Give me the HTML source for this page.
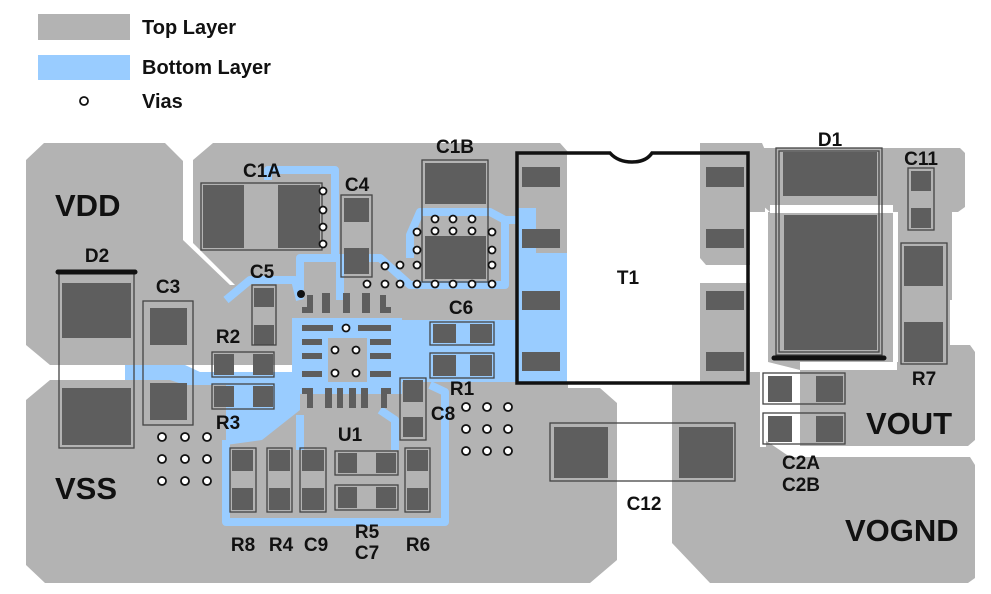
<!DOCTYPE html>
<html><head><meta charset="utf-8"><style>
html,body{margin:0;padding:0;background:#fff;width:991px;height:594px;overflow:hidden}
text{font-family:"Liberation Sans",Arial,sans-serif;font-weight:bold;fill:#111}
</style></head><body>
<svg width="991" height="594" viewBox="0 0 991 594" xmlns="http://www.w3.org/2000/svg">
<!-- legend -->
<rect x="38" y="14" width="92" height="26" fill="#b3b3b3"/>
<rect x="38" y="55" width="92" height="25" fill="#99ccff"/>
<circle cx="84" cy="101" r="4" fill="#fff" stroke="#111" stroke-width="1.8"/>
<text x="142" y="34" font-size="20">Top Layer</text>
<text x="142" y="74" font-size="20">Bottom Layer</text>
<text x="142" y="108" font-size="20">Vias</text>

<g fill="#b3b3b3">
<polygon points="44,143 165,143 183,161 183,240 230,285 300,285 300,365 50,365 26,345 26,160"/>
<polygon points="50,380 300,380 300,388 600,388 617,403 617,560 590,583 45,583 26,565 26,400"/>
<polygon points="213,143 560,143 568,152 568,395 300,395 300,285 235,285 193,243 193,160"/>
<polygon points="700,143 762,143 765,150 765,262 758,265 706,265 700,258"/>
<polygon points="762,148 905,148 960,148 965,153 965,207 958,212 770,212 762,205"/>
<polygon points="898,150 952,150 952,300 898,300"/>
<polygon points="768,212 893,212 893,362 800,362 800,370 768,362"/>
<polygon points="897,240 950,240 950,345 970,345 975,352 975,440 968,446 800,446 800,370 897,370"/>
<polygon points="680,283 762,283 765,290 765,440 790,457 970,457 975,465 975,578 968,583 710,583 672,543 672,290"/>
</g>
<g fill="#fff">
<rect x="567" y="153" width="133" height="230"/>
<rect x="700" y="265" width="45" height="18"/>
<rect x="760" y="365" width="6" height="82"/>
<rect x="793" y="372" width="6" height="76"/>
<rect x="617" y="388" width="55" height="200"/>
<rect x="750" y="212" width="18" height="160"/>
<rect x="770" y="205" width="123" height="8"/>
<rect x="893" y="212" width="5" height="150"/>
</g>

<g fill="#99ccff">
<rect x="518" y="253" width="49" height="130"/>
<rect x="518" y="208" width="18" height="50"/>
<rect x="292" y="318" width="110" height="76"/>
<polygon points="125,365 185,365 200,372 300,372 300,385 185,385 170,380 125,380"/>
<polygon points="226,382 300,382 300,410 262,440 226,445"/>
<rect x="395" y="320" width="123" height="62"/>
</g>
<g fill="none" stroke="#99ccff" stroke-width="8" stroke-linejoin="round">
<polyline points="226,440 226,522 445,522 445,392 430,385"/>
<polyline points="268,180 268,170 335,170 335,258 300,258 300,290"/>
<polyline points="335,258 380,258 410,285 505,285 505,220 490,212 420,212 410,235 410,258"/>
<polyline points="340,300 340,260"/>
<polyline points="226,300 250,280 295,280 300,300"/>
<polyline points="505,220 518,220"/>
<polyline points="395,450 395,420 380,410"/>
<polyline points="300,450 300,415"/>
</g>

<g fill="#5e5e5e">
<rect x="203" y="185" width="41" height="63"/><rect x="278" y="185" width="42" height="63"/>
<rect x="344" y="198" width="25" height="24"/><rect x="344" y="248" width="25" height="26"/>
<rect x="425" y="163" width="61" height="41"/><rect x="425" y="236" width="61" height="43"/>
<rect x="254" y="288" width="20" height="19"/><rect x="254" y="325" width="20" height="20"/>
<rect x="62" y="283" width="69" height="55"/><rect x="62" y="388" width="69" height="57"/>
<rect x="150" y="308" width="37" height="37"/><rect x="150" y="383" width="37" height="37"/>
<rect x="214" y="354" width="20" height="21"/><rect x="253" y="354" width="20" height="21"/>
<rect x="214" y="386" width="20" height="21"/><rect x="253" y="386" width="20" height="21"/>
<rect x="433" y="324" width="23" height="19"/><rect x="470" y="324" width="22" height="19"/>
<rect x="433" y="355" width="23" height="21"/><rect x="470" y="355" width="22" height="21"/>
<rect x="403" y="380" width="20" height="22"/><rect x="403" y="417" width="20" height="20"/>
<rect x="232" y="450" width="21" height="21"/><rect x="232" y="488" width="21" height="22"/>
<rect x="269" y="450" width="21" height="21"/><rect x="269" y="488" width="21" height="22"/>
<rect x="302" y="450" width="22" height="21"/><rect x="302" y="488" width="22" height="22"/>
<rect x="338" y="453" width="19" height="20"/><rect x="376" y="453" width="20" height="20"/>
<rect x="338" y="487" width="19" height="21"/><rect x="376" y="487" width="20" height="21"/>
<rect x="407" y="450" width="21" height="21"/><rect x="407" y="488" width="21" height="22"/>
<rect x="522" y="167" width="38" height="20"/><rect x="522" y="229" width="38" height="19"/>
<rect x="522" y="291" width="38" height="19"/><rect x="522" y="352" width="38" height="19"/>
<rect x="706" y="167" width="38" height="20"/><rect x="706" y="229" width="38" height="19"/>
<rect x="706" y="291" width="38" height="19"/><rect x="706" y="352" width="38" height="19"/>
<rect x="554" y="427" width="54" height="51"/><rect x="679" y="427" width="54" height="51"/>
<rect x="783" y="152" width="94" height="44"/><rect x="784" y="215" width="93" height="135"/>
<rect x="911" y="171" width="20" height="20"/><rect x="911" y="208" width="20" height="20"/>
<rect x="904" y="246" width="39" height="40"/><rect x="904" y="322" width="39" height="40"/>
<rect x="768" y="376" width="24" height="26"/><rect x="816" y="376" width="27" height="26"/>
<rect x="768" y="416" width="24" height="26"/><rect x="816" y="416" width="27" height="26"/>
<rect x="302" y="325" width="31" height="6"/><rect x="302" y="339" width="20" height="6"/>
<rect x="302" y="353" width="20" height="6"/><rect x="302" y="371" width="20" height="6"/>
<rect x="358" y="325" width="33" height="6"/><rect x="370" y="339" width="21" height="6"/>
<rect x="370" y="353" width="21" height="6"/><rect x="370" y="371" width="21" height="6"/>
<rect x="302" y="307" width="11" height="6"/><rect x="307" y="295" width="6" height="18"/>
<rect x="322" y="293" width="8" height="20"/><rect x="343" y="293" width="7" height="20"/>
<rect x="362" y="293" width="8" height="20"/><rect x="380" y="307" width="11" height="6"/><rect x="380" y="295" width="6" height="18"/>
<rect x="302" y="388" width="11" height="6"/><rect x="307" y="388" width="6" height="20"/>
<rect x="325" y="388" width="7" height="20"/><rect x="337" y="388" width="6" height="20"/>
<rect x="349" y="388" width="7" height="20"/><rect x="361" y="388" width="7" height="20"/>
<rect x="381" y="388" width="10" height="6"/><rect x="381" y="388" width="6" height="20"/>
</g>
<rect x="328" y="338" width="39" height="44" fill="#b3b3b3"/>
<circle cx="301" cy="294" r="4" fill="#111"/>

<g fill="none" stroke="#444" stroke-width="1.3">
<rect x="201" y="183" width="121" height="67"/>
<rect x="341" y="195" width="31" height="82"/>
<rect x="422" y="160" width="66" height="122"/>
<rect x="252" y="285" width="24" height="60"/>
<rect x="59" y="272" width="75" height="176"/>
<rect x="143" y="301" width="50" height="124"/>
<rect x="212" y="352" width="62" height="25"/>
<rect x="212" y="384" width="62" height="25"/>
<rect x="430" y="322" width="64" height="23"/>
<rect x="430" y="353" width="64" height="25"/>
<rect x="400" y="378" width="26" height="62"/>
<rect x="230" y="448" width="26" height="64"/>
<rect x="267" y="448" width="25" height="64"/>
<rect x="300" y="448" width="26" height="64"/>
<rect x="335" y="451" width="63" height="24"/>
<rect x="335" y="485" width="63" height="25"/>
<rect x="405" y="448" width="25" height="64"/>
<rect x="550" y="423" width="185" height="58"/>
<rect x="776" y="148" width="106" height="207"/>
<rect x="779" y="151" width="100" height="201"/>
<rect x="908" y="168" width="26" height="62"/>
<rect x="901" y="243" width="46" height="121"/>
<rect x="763" y="373" width="82" height="31"/>
<rect x="763" y="413" width="82" height="31"/>
</g>
<line x1="58" y1="272" x2="135" y2="272" stroke="#111" stroke-width="5" stroke-linecap="round"/>
<line x1="774" y1="358" x2="884" y2="358" stroke="#111" stroke-width="5" stroke-linecap="round"/>
<path d="M517,153 H610 Q618,162 632,162 Q646,162 652,153 H748 V383 H517 Z" fill="none" stroke="#111" stroke-width="3.5"/>

<g fill="#fff" stroke="#111" stroke-width="1.8">
<circle cx="323" cy="191" r="3.5"/><circle cx="323" cy="210" r="3.5"/><circle cx="323" cy="227" r="3.5"/><circle cx="323" cy="244" r="3.5"/>
<circle cx="435" cy="219" r="3.5"/><circle cx="453" cy="219" r="3.5"/><circle cx="472" cy="219" r="3.5"/>
<circle cx="417" cy="232" r="3.5"/><circle cx="435" cy="231" r="3.5"/><circle cx="453" cy="231" r="3.5"/><circle cx="472" cy="231" r="3.5"/><circle cx="492" cy="232" r="3.5"/>
<circle cx="417" cy="250" r="3.5"/><circle cx="492" cy="250" r="3.5"/>
<circle cx="385" cy="266" r="3.5"/><circle cx="400" cy="265" r="3.5"/><circle cx="417" cy="265" r="3.5"/><circle cx="492" cy="265" r="3.5"/>
<circle cx="367" cy="284" r="3.5"/><circle cx="385" cy="284" r="3.5"/><circle cx="400" cy="284" r="3.5"/><circle cx="417" cy="284" r="3.5"/><circle cx="435" cy="284" r="3.5"/><circle cx="453" cy="284" r="3.5"/><circle cx="472" cy="284" r="3.5"/><circle cx="492" cy="284" r="3.5"/>
<circle cx="346" cy="328" r="3.5"/><circle cx="335" cy="350" r="3.5"/><circle cx="356" cy="350" r="3.5"/><circle cx="335" cy="373" r="3.5"/><circle cx="356" cy="373" r="3.5"/>
<circle cx="162" cy="437" r="4"/><circle cx="185" cy="437" r="4"/><circle cx="207" cy="437" r="4"/>
<circle cx="162" cy="459" r="4"/><circle cx="185" cy="459" r="4"/><circle cx="207" cy="459" r="4"/>
<circle cx="162" cy="481" r="4"/><circle cx="185" cy="481" r="4"/><circle cx="207" cy="481" r="4"/>
<circle cx="466" cy="407" r="4"/><circle cx="487" cy="407" r="4"/><circle cx="508" cy="407" r="4"/>
<circle cx="466" cy="429" r="4"/><circle cx="487" cy="429" r="4"/><circle cx="508" cy="429" r="4"/>
<circle cx="466" cy="451" r="4"/><circle cx="487" cy="451" r="4"/><circle cx="508" cy="451" r="4"/>
</g>

<g font-size="19" text-anchor="middle">
<text x="262" y="177">C1A</text>
<text x="357" y="191">C4</text>
<text x="455" y="153">C1B</text>
<text x="262" y="278">C5</text>
<text x="97" y="262">D2</text>
<text x="168" y="293">C3</text>
<text x="228" y="343">R2</text>
<text x="228" y="429">R3</text>
<text x="461" y="314">C6</text>
<text x="462" y="395">R1</text>
<text x="443" y="420">C8</text>
<text x="350" y="441">U1</text>
<text x="243" y="551">R8</text>
<text x="281" y="551">R4</text>
<text x="316" y="551">C9</text>
<text x="367" y="538">R5</text>
<text x="367" y="559">C7</text>
<text x="418" y="551">R6</text>
<text x="628" y="284">T1</text>
<text x="644" y="510">C12</text>
<text x="830" y="146">D1</text>
<text x="921" y="165">C11</text>
<text x="924" y="385">R7</text>
<text x="801" y="469">C2A</text>
<text x="801" y="491">C2B</text>
</g>
<g font-size="31">
<text x="55" y="216">VDD</text>
<text x="55" y="499">VSS</text>
<text x="866" y="434">VOUT</text>
<text x="845" y="541">VOGND</text>
</g>
</svg>
</body></html>
